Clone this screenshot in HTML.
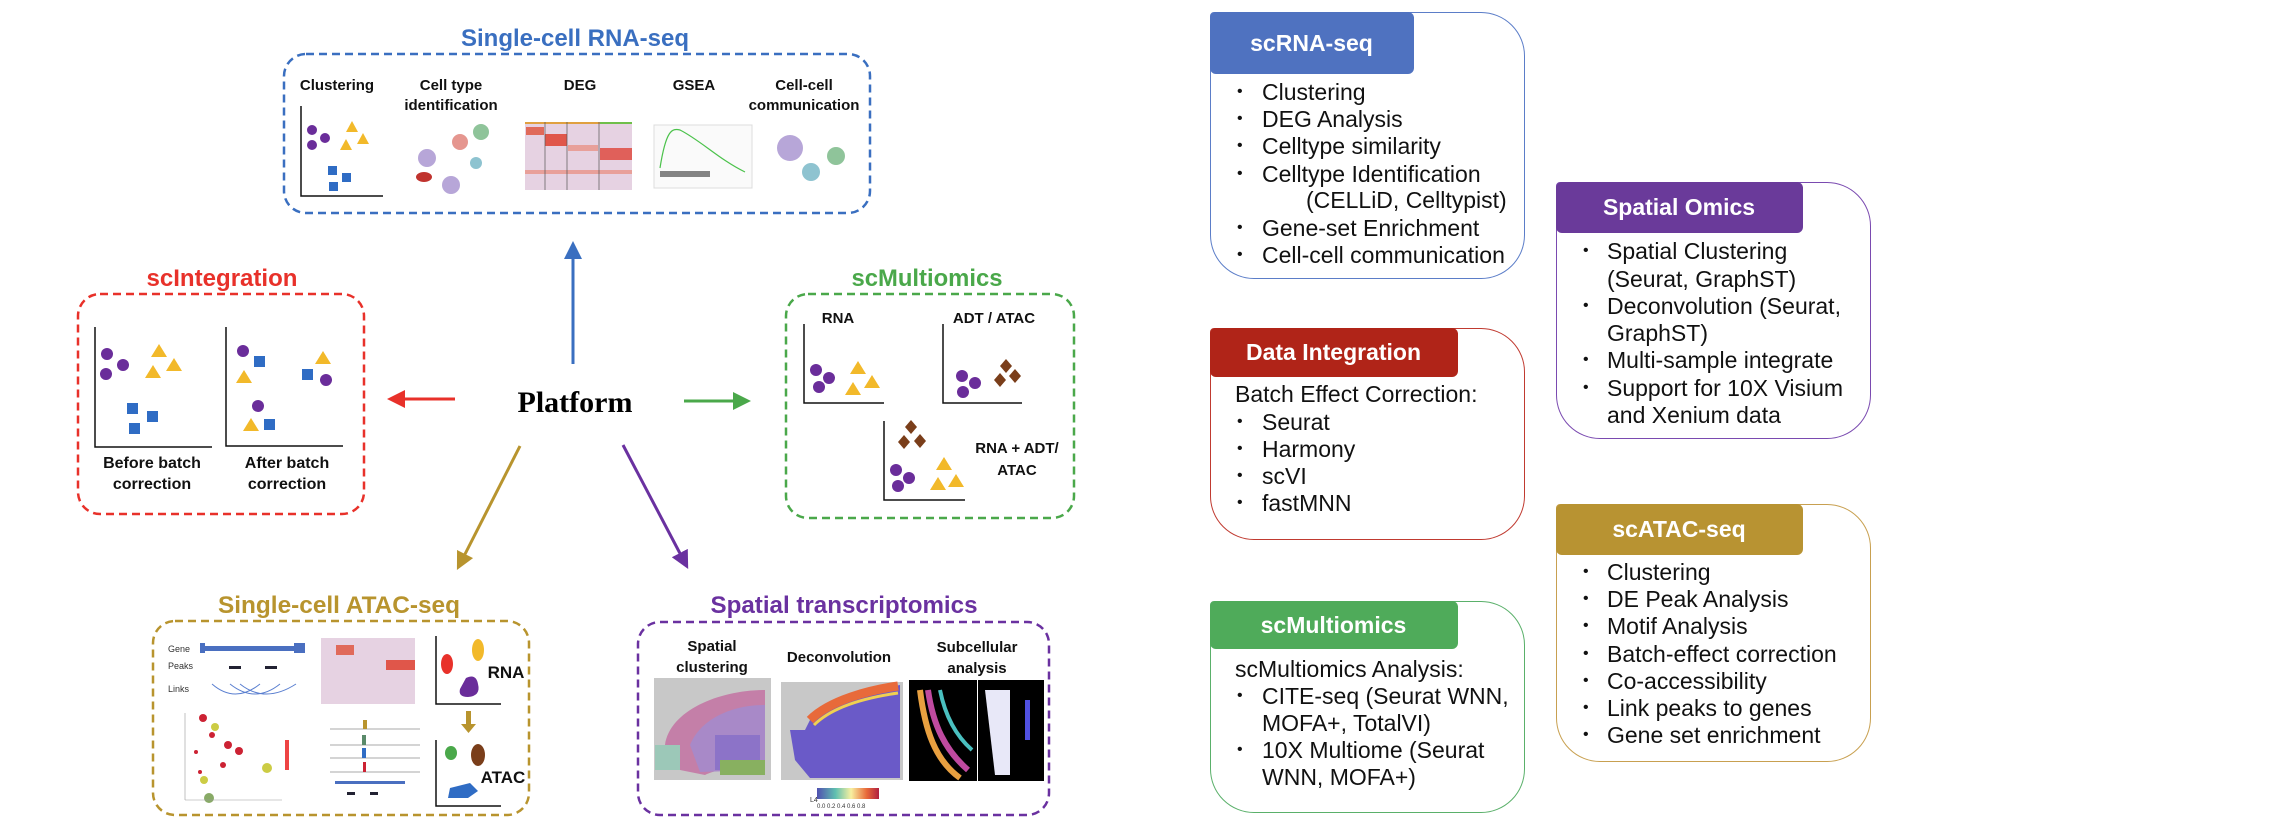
<!DOCTYPE html>
<html><head><meta charset="utf-8"><style>
body{margin:0;background:#fff;}
#w{position:relative;width:2294px;height:836px;overflow:hidden;background:#fff;font-family:"Liberation Sans",sans-serif;}
.pan{position:absolute;box-sizing:border-box;border:1.5px solid;border-radius:4px 44px 44px 44px;}
.hd{position:absolute;left:-1.5px;top:-1.5px;color:#fff;font-weight:bold;font-size:23px;text-align:center;border-radius:6px;box-sizing:border-box;}
.t{position:absolute;font-size:23px;color:#111;white-space:nowrap;line-height:22px;}
.b{position:absolute;font-size:16px;color:#111;line-height:22px;}
</style></head><body><div id="w">
<svg width="1150" height="836" style="position:absolute;left:0;top:0" font-family="Liberation Sans, sans-serif">
<defs>
<marker id="mb" markerWidth="6" markerHeight="6" refX="3" refY="3" orient="auto"><path d="M0,0L6,3L0,6z" fill="#3a6fc0"/></marker>
<marker id="mr" markerWidth="6" markerHeight="6" refX="3" refY="3" orient="auto"><path d="M0,0L6,3L0,6z" fill="#e8312a"/></marker>
<marker id="mg" markerWidth="6" markerHeight="6" refX="3" refY="3" orient="auto"><path d="M0,0L6,3L0,6z" fill="#4aa84a"/></marker>
<marker id="my" markerWidth="6" markerHeight="6" refX="3" refY="3" orient="auto"><path d="M0,0L6,3L0,6z" fill="#b8942e"/></marker>
<marker id="mp" markerWidth="6" markerHeight="6" refX="3" refY="3" orient="auto"><path d="M0,0L6,3L0,6z" fill="#6a31a0"/></marker>
</defs>
<g fill="none" stroke-width="2.5" stroke-dasharray="8 5">
<rect x="284" y="54" width="586" height="159" rx="22" stroke="#3a6fc0"/>
<rect x="78" y="294" width="286" height="220" rx="22" stroke="#e8312a"/>
<rect x="786" y="294" width="288" height="224" rx="22" stroke="#4aa84a"/>
<rect x="153" y="621" width="376" height="194" rx="22" stroke="#b8942e"/>
<rect x="638" y="622" width="411" height="193" rx="22" stroke="#6a31a0"/>
</g>
<g font-weight="bold" font-size="24" text-anchor="middle">
<text x="575" y="46" fill="#3a6fc0" textLength="228" lengthAdjust="spacingAndGlyphs">Single-cell RNA-seq</text>
<text x="222" y="286" fill="#e8312a" textLength="151" lengthAdjust="spacingAndGlyphs">scIntegration</text>
<text x="927" y="286" fill="#4aa84a" textLength="151" lengthAdjust="spacingAndGlyphs">scMultiomics</text>
<text x="339" y="613" fill="#b8942e" textLength="242" lengthAdjust="spacingAndGlyphs">Single-cell ATAC-seq</text>
<text x="844" y="613" fill="#6a31a0" textLength="267" lengthAdjust="spacingAndGlyphs">Spatial transcriptomics</text>
</g>
<text x="575" y="412" font-family="Liberation Serif, serif" font-weight="bold" font-size="30" text-anchor="middle">Platform</text>
<g stroke-width="3" fill="none">
<line x1="573" y1="364" x2="573" y2="250" stroke="#3a6fc0" marker-end="url(#mb)"/>
<line x1="455" y1="399" x2="396" y2="399" stroke="#e8312a" marker-end="url(#mr)"/>
<line x1="684" y1="401" x2="742" y2="401" stroke="#4aa84a" marker-end="url(#mg)"/>
<line x1="520" y1="446" x2="461" y2="562" stroke="#b8942e" marker-end="url(#my)"/>
<line x1="623" y1="445" x2="684" y2="561" stroke="#6a31a0" marker-end="url(#mp)"/>
</g>
<g font-weight="bold" font-size="15" text-anchor="middle" fill="#111">
<text x="337" y="90">Clustering</text>
<text x="451" y="90">Cell type</text><text x="451" y="110">identification</text>
<text x="580" y="90">DEG</text><text x="694" y="90">GSEA</text>
<text x="804" y="90">Cell-cell</text><text x="804" y="110">communication</text>
<text x="152" y="468" font-size="16">Before batch</text><text x="152" y="489" font-size="16">correction</text>
<text x="287" y="468" font-size="16">After batch</text><text x="287" y="489" font-size="16">correction</text>
<text x="838" y="323">RNA</text><text x="994" y="323">ADT / ATAC</text>
<text x="1017" y="453">RNA + ADT/</text><text x="1017" y="475">ATAC</text>
<text x="712" y="651">Spatial</text><text x="712" y="672">clustering</text>
<text x="839" y="662">Deconvolution</text>
<text x="977" y="652">Subcellular</text><text x="977" y="673">analysis</text>
<text x="506" y="678" font-size="17">RNA</text><text x="503" y="783" font-size="17">ATAC</text>
</g>
<g stroke="#111" stroke-width="1.5" fill="none">
<path d="M301,106V196H383"/><path d="M95,327V447H212"/><path d="M226,327V446H343"/>
<path d="M804,324V403H884"/><path d="M943,324V403H1022"/><path d="M884,421V500H965"/>
<path d="M436,636V704H501"/><path d="M436,740V806H501"/>
</g>
<g fill="#6a2d9a">
<circle cx="312" cy="130" r="5"/><circle cx="325" cy="138" r="5"/><circle cx="312" cy="145" r="5"/>
<circle cx="107" cy="354" r="6"/><circle cx="123" cy="365" r="6"/><circle cx="106" cy="374" r="6"/>
<circle cx="243" cy="351" r="6"/><circle cx="326" cy="380" r="6"/><circle cx="258" cy="406" r="6"/>
<circle cx="816" cy="370" r="6"/><circle cx="829" cy="378" r="6"/><circle cx="819" cy="387" r="6"/>
<circle cx="962" cy="376" r="6"/><circle cx="975" cy="383" r="6"/><circle cx="963" cy="392" r="6"/>
<circle cx="896" cy="470" r="6"/><circle cx="909" cy="478" r="6"/><circle cx="898" cy="486" r="6"/>
</g>
<g fill="#f2b92a">
<path d="M352,121l6,11h-12z"/><path d="M346,139l6,11h-12z"/><path d="M363,133l6,11h-12z"/>
<path d="M159,344l8,13h-16z"/><path d="M153,365l8,13h-16z"/><path d="M174,358l8,13h-16z"/>
<path d="M244,370l8,13h-16z"/><path d="M323,351l8,13h-16z"/><path d="M251,418l8,13h-16z"/>
<path d="M858,361l8,13h-16z"/><path d="M872,375l8,13h-16z"/><path d="M853,382l8,13h-16z"/>
<path d="M944,457l8,13h-16z"/><path d="M938,477l8,13h-16z"/><path d="M956,474l8,13h-16z"/>
</g>
<g fill="#2f6cc4">
<rect x="328" y="166" width="9" height="9"/><rect x="342" y="173" width="9" height="9"/><rect x="329" y="182" width="9" height="9"/>
<rect x="127" y="403" width="11" height="11"/><rect x="147" y="411" width="11" height="11"/><rect x="129" y="423" width="11" height="11"/>
<rect x="254" y="356" width="11" height="11"/><rect x="302" y="369" width="11" height="11"/><rect x="264" y="419" width="11" height="11"/>
</g>
<g fill="#7a3e1a">
<path d="M1006,359l6,7l-6,7l-6,-7z"/><path d="M1000,373l6,7l-6,7l-6,-7z"/><path d="M1015,369l6,7l-6,7l-6,-7z"/>
<path d="M911,420l6,7l-6,7l-6,-7z"/><path d="M904,435l6,7l-6,7l-6,-7z"/><path d="M920,434l6,7l-6,7l-6,-7z"/>
</g>
<circle cx="427" cy="158" r="9" fill="#b7a6d8"/><circle cx="460" cy="142" r="8" fill="#e5968f"/><circle cx="481" cy="132" r="8" fill="#8fc49a"/>
<ellipse cx="424" cy="177" rx="8" ry="5" fill="#c0332e"/><circle cx="451" cy="185" r="9" fill="#b7a6d8"/><circle cx="476" cy="163" r="6" fill="#8ec3d0"/>
<rect x="525" y="122" width="107" height="68" fill="#e6d2e2"/>
<rect x="525" y="122" width="107" height="2" fill="#e0a040"/><rect x="600" y="122" width="32" height="2" fill="#6fbf4a"/>
<rect x="526" y="127" width="18" height="8" fill="#e06a5a"/><rect x="545" y="134" width="22" height="12" fill="#e0564a"/>
<rect x="600" y="148" width="32" height="12" fill="#e0605a"/><rect x="568" y="145" width="30" height="6" fill="#e8a09a"/>
<rect x="525" y="170" width="107" height="4" fill="#e8a09a"/>
<line x1="545" y1="122" x2="545" y2="190" stroke="#555" stroke-width="0.7"/><line x1="567" y1="122" x2="567" y2="190" stroke="#555" stroke-width="0.7"/><line x1="599" y1="122" x2="599" y2="190" stroke="#555" stroke-width="0.7"/>
<rect x="654" y="125" width="98" height="63" fill="#fafafa" stroke="#ddd"/>
<path d="M660,168C666,130 672,128 680,130C700,140 720,160 745,172" stroke="#4bc24b" fill="none" stroke-width="1.2"/>
<rect x="660" y="171" width="50" height="6" fill="#333" opacity="0.6"/>
<circle cx="790" cy="148" r="13" fill="#b7a6d8"/><circle cx="836" cy="156" r="9" fill="#8fc49a"/><circle cx="811" cy="172" r="9" fill="#8ec3d0"/>
<g font-size="9" fill="#333"><text x="168" y="652">Gene</text><text x="168" y="669">Peaks</text><text x="168" y="692">Links</text></g>
<rect x="201" y="646" width="104" height="5" fill="#4a6fc0"/><rect x="200" y="643" width="5" height="10" fill="#4a6fc0"/><rect x="294" y="643" width="11" height="10" fill="#4a6fc0"/>
<rect x="229" y="666" width="12" height="3" fill="#223"/><rect x="265" y="666" width="12" height="3" fill="#223"/>
<path d="M212,684Q235,704 260,684M230,684Q255,704 280,684M240,684Q265,704 296,684" stroke="#5a7fd0" fill="none"/>
<rect x="321" y="638" width="94" height="66" fill="#e6d2e2"/><rect x="336" y="645" width="18" height="10" fill="#e06a5a"/><rect x="386" y="660" width="29" height="10" fill="#e0564a"/>
<ellipse cx="447" cy="664" rx="6" ry="10" fill="#e8312a"/><ellipse cx="478" cy="650" rx="6" ry="11" fill="#f2b92a"/><path d="M466,678q10,-5 12,6q3,12 -10,13q-10,0 -8,-8z" fill="#6a2d9a"/>
<rect x="466" y="711" width="5" height="14" fill="#b8942e"/><path d="M461,724h15l-7.5,9z" fill="#b8942e"/>
<ellipse cx="451" cy="753" rx="6" ry="7" fill="#4aa84a"/><ellipse cx="478" cy="755" rx="7" ry="11" fill="#7a3e1a"/><path d="M450,788l20,-5l8,8l-10,7l-20,0z" fill="#2f6cc4"/>
<g fill="#c23"><circle cx="203" cy="718" r="4"/><circle cx="212" cy="735" r="3"/><circle cx="228" cy="745" r="4"/><circle cx="239" cy="751" r="4"/><circle cx="196" cy="752" r="2"/><circle cx="223" cy="765" r="3"/><circle cx="200" cy="772" r="2"/></g>
<g fill="#cc4"><circle cx="215" cy="727" r="4"/><circle cx="204" cy="780" r="4"/><circle cx="267" cy="768" r="5"/></g>
<circle cx="209" cy="798" r="5" fill="#8a6"/><rect x="285" y="740" width="4" height="30" fill="#e44"/>
<line x1="185" y1="713" x2="185" y2="800" stroke="#999" stroke-width="0.6"/><line x1="185" y1="800" x2="282" y2="800" stroke="#999" stroke-width="0.6"/>
<g stroke="#aaa" stroke-width="1"><line x1="330" y1="729" x2="420" y2="729"/><line x1="330" y1="745" x2="420" y2="745"/><line x1="330" y1="758" x2="420" y2="758"/><line x1="330" y1="772" x2="420" y2="772"/></g>
<rect x="363" y="720" width="4" height="9" fill="#b8942e"/><rect x="362" y="735" width="4" height="10" fill="#5a8a6a"/><rect x="362" y="748" width="4" height="10" fill="#2f6cc4"/><rect x="363" y="762" width="3" height="10" fill="#c23"/>
<rect x="335" y="781" width="70" height="3" fill="#4a6fc0"/><rect x="347" y="792" width="8" height="3" fill="#223"/><rect x="370" y="792" width="8" height="3" fill="#223"/>
<rect x="654" y="678" width="117" height="102" fill="#c8c8c8"/>
<path d="M665,745C670,710 720,690 765,690V760C740,765 715,770 705,775L680,770z" fill="#c47fa8"/>
<path d="M690,745C700,720 730,705 765,705V770L700,772z" fill="#a889c8"/>
<path d="M715,735h45v35h-45z" fill="#8c73c8"/><path d="M655,745h25v25h-25z" fill="#9cc8b8"/><path d="M720,760h45v15h-45z" fill="#88b060"/>
<rect x="781" y="682" width="122" height="98" fill="#c8c8c8"/>
<path d="M790,730h15l5,-10C830,700 870,690 900,685V778H810L795,760z" fill="#6a5ac8"/>
<path d="M810,720C830,700 870,690 898,686" stroke="#e86a3a" stroke-width="9" fill="none"/>
<path d="M814,725C834,705 870,697 898,693" stroke="#f0d050" stroke-width="3" fill="none"/>
<rect x="909" y="680" width="68" height="101" fill="#000"/>
<path d="M920,690C925,730 935,760 960,778" stroke="#e8a040" stroke-width="6" fill="none"/><path d="M928,690C933,725 945,750 968,770" stroke="#c04aa0" stroke-width="6" fill="none"/><path d="M940,690C945,715 955,735 972,750" stroke="#4ac0c0" stroke-width="4" fill="none"/>
<rect x="978" y="680" width="66" height="101" fill="#000"/>
<path d="M985,690h25v85h-15z" fill="#e8e8f8"/><rect x="1025" y="700" width="5" height="40" fill="#5050e0"/>
<defs><linearGradient id="cb"><stop offset="0" stop-color="#5050b0"/><stop offset=".3" stop-color="#60c0b0"/><stop offset=".55" stop-color="#f8f0a0"/><stop offset=".8" stop-color="#e86a3a"/><stop offset="1" stop-color="#b02040"/></linearGradient></defs>
<rect x="817" y="788" width="62" height="11" fill="url(#cb)"/>
<text x="810" y="802" font-size="7" fill="#333">L4</text><text x="817" y="808" font-size="6" fill="#333">0.0 0.2 0.4 0.6 0.8</text>
</svg>

<div class="pan" style="left:1210px;top:12px;width:315px;height:267px;border-color:#5b7dc8">
<div class="hd" style="width:204px;height:62px;line-height:62px;background:#4f72c0">scRNA-seq</div></div>
<div class="pan" style="left:1556px;top:182px;width:315px;height:257px;border-color:#7a4ab0">
<div class="hd" style="width:247px;height:51px;line-height:51px;background:#6a3a9a">Spatial Omics</div></div>
<div class="pan" style="left:1210px;top:328px;width:315px;height:212px;border-color:#c03a30">
<div class="hd" style="width:248px;height:49px;line-height:49px;background:#b02418">Data Integration</div></div>
<div class="pan" style="left:1556px;top:504px;width:315px;height:258px;border-color:#c8a050">
<div class="hd" style="width:247px;height:51px;line-height:51px;background:#b89332">scATAC-seq</div></div>
<div class="pan" style="left:1210px;top:601px;width:315px;height:212px;border-color:#5ab06a">
<div class="hd" style="width:248px;height:48px;line-height:48px;background:#4fab5a">scMultiomics</div></div>

<div class="b" style="left:1237px;top:81px">•</div><div class="t" style="left:1262px;top:81px">Clustering</div>
<div class="b" style="left:1237px;top:108px">•</div><div class="t" style="left:1262px;top:108px">DEG Analysis</div>
<div class="b" style="left:1237px;top:135px">•</div><div class="t" style="left:1262px;top:135px">Celltype similarity</div>
<div class="b" style="left:1237px;top:163px">•</div><div class="t" style="left:1262px;top:163px">Celltype Identification</div>
<div class="t" style="left:1306px;top:189px">(CELLiD, Celltypist)</div>
<div class="b" style="left:1237px;top:217px">•</div><div class="t" style="left:1262px;top:217px">Gene-set Enrichment</div>
<div class="b" style="left:1237px;top:244px">•</div><div class="t" style="left:1262px;top:244px">Cell-cell communication</div>

<div class="b" style="left:1583px;top:240px">•</div><div class="t" style="left:1607px;top:240px">Spatial Clustering</div>
<div class="t" style="left:1607px;top:268px">(Seurat, GraphST)</div>
<div class="b" style="left:1583px;top:295px">•</div><div class="t" style="left:1607px;top:295px">Deconvolution (Seurat,</div>
<div class="t" style="left:1607px;top:322px">GraphST)</div>
<div class="b" style="left:1583px;top:349px">•</div><div class="t" style="left:1607px;top:349px">Multi-sample integrate</div>
<div class="b" style="left:1583px;top:377px">•</div><div class="t" style="left:1607px;top:377px">Support for 10X Visium</div>
<div class="t" style="left:1607px;top:404px">and Xenium data</div>

<div class="t" style="left:1235px;top:383px">Batch Effect Correction:</div>
<div class="b" style="left:1237px;top:411px">•</div><div class="t" style="left:1262px;top:411px">Seurat</div>
<div class="b" style="left:1237px;top:438px">•</div><div class="t" style="left:1262px;top:438px">Harmony</div>
<div class="b" style="left:1237px;top:465px">•</div><div class="t" style="left:1262px;top:465px">scVI</div>
<div class="b" style="left:1237px;top:492px">•</div><div class="t" style="left:1262px;top:492px">fastMNN</div>

<div class="b" style="left:1583px;top:561px">•</div><div class="t" style="left:1607px;top:561px">Clustering</div>
<div class="b" style="left:1583px;top:588px">•</div><div class="t" style="left:1607px;top:588px">DE Peak Analysis</div>
<div class="b" style="left:1583px;top:615px">•</div><div class="t" style="left:1607px;top:615px">Motif Analysis</div>
<div class="b" style="left:1583px;top:643px">•</div><div class="t" style="left:1607px;top:643px">Batch-effect correction</div>
<div class="b" style="left:1583px;top:670px">•</div><div class="t" style="left:1607px;top:670px">Co-accessibility</div>
<div class="b" style="left:1583px;top:697px">•</div><div class="t" style="left:1607px;top:697px">Link peaks to genes</div>
<div class="b" style="left:1583px;top:724px">•</div><div class="t" style="left:1607px;top:724px">Gene set enrichment</div>

<div class="t" style="left:1235px;top:658px">scMultiomics Analysis:</div>
<div class="b" style="left:1237px;top:685px">•</div><div class="t" style="left:1262px;top:685px">CITE-seq (Seurat WNN,</div>
<div class="t" style="left:1262px;top:712px">MOFA+, TotalVI)</div>
<div class="b" style="left:1237px;top:739px">•</div><div class="t" style="left:1262px;top:739px">10X Multiome (Seurat</div>
<div class="t" style="left:1262px;top:766px">WNN, MOFA+)</div>
</div></body></html>
